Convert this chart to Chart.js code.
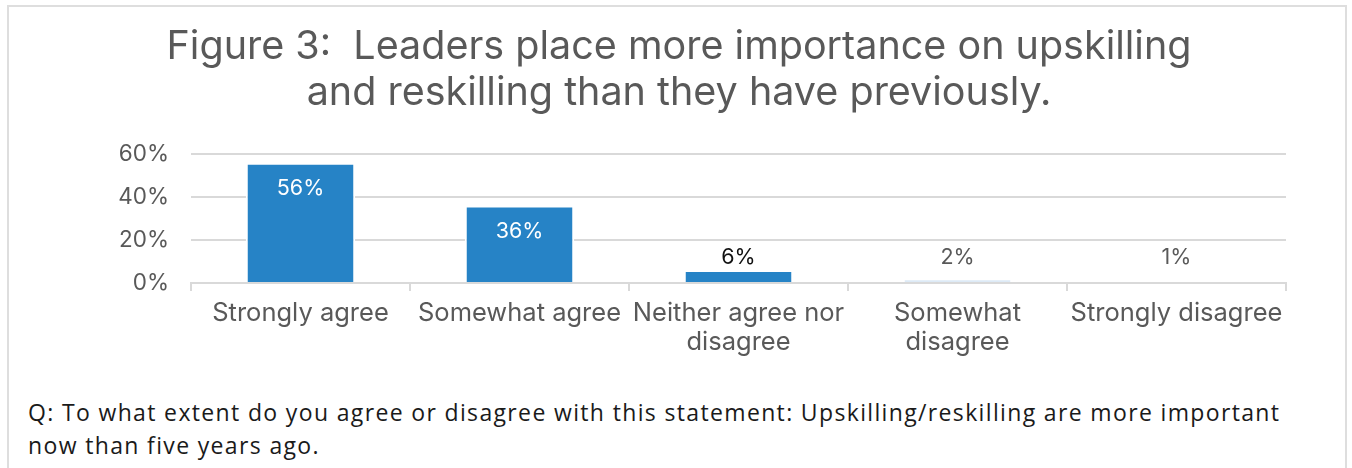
<!DOCTYPE html>
<html>
<head>
<meta charset="utf-8">
<script src="https://cdn.jsdelivr.net/npm/chart.js@4"></script>
<style>
  html, body { margin: 0; padding: 0; background: #fff; }
  #frame {
    position: absolute; left: 7px; top: 5px; width: 1336px; height: 480px;
    border: 2px solid #dedede; border-bottom: none; background: #fff;
  }
  #box { position: absolute; left: 63px; top: 0; width: 1273px; height: 372px; }
  #note {
    position: absolute; left: 19px; top: 389px; width: 1310px;
    font-family: "Open Sans", sans-serif; font-size: 23px; letter-spacing: 1.35px;
    line-height: 33px; color: #1a1a1a; white-space: nowrap;
  }
</style>
</head>
<body>
<div id="frame">
  <div id="box"><canvas id="chart"></canvas></div>
  <div id="note">Q: To what extent do you agree or disagree with this statement: Upskilling/reskilling are more important<br>now than five years ago.</div>
</div>
<script>
const categories = [
  "Strongly agree",
  "Somewhat agree",
  ["Neither agree nor", "disagree"],
  ["Somewhat", "disagree"],
  "Strongly disagree"
];
const shares = [56, 36, 6, 2, 1];
const yTicks = [0, 20, 40, 60];

const barColors = ["#2683c6", "#2683c6", "#2683c6", "#ddeaf6", "#ffffff"];
const labelColors = ["#ffffff", "#ffffff", "#111111", "#595959", "#595959"];
const gray = "#595959";
const lineGray = "#d9d9d9";
const font = "Inter";

// value labels: inside the top of tall bars, above the short ones
const valueLabels = {
  id: "valueLabels",
  afterDatasetsDraw(chart) {
    const ctx = chart.ctx;
    const meta = chart.getDatasetMeta(0);
    const y = chart.scales.y;
    ctx.save();
    ctx.font = "21.5px " + font;
    ctx.textAlign = "center";
    ctx.textBaseline = "middle";
    meta.data.forEach((bar, i) => {
      const v = shares[i];
      const py = v >= 20 ? bar.y + 26 : y.getPixelForValue(Math.max(v, 6)) - 13;
      ctx.fillStyle = labelColors[i];
      ctx.fillText(v + "%", bar.x, py);
    });
    ctx.restore();
  }
};

new Chart(document.getElementById("chart"), {
  type: "bar",
  data: {
    labels: categories,
    datasets: [{
      data: shares,
      backgroundColor: barColors,
      borderColor: "#ffffff",
      borderWidth: 2,
      borderSkipped: "bottom",
      categoryPercentage: 1,
      barPercentage: 0.5
    }]
  },
  options: {
    responsive: true,
    maintainAspectRatio: false,
    animation: false,
    layout: { padding: { left: 0, right: 59, top: 0, bottom: 0 } },
    plugins: {
      legend: { display: false },
      tooltip: { enabled: false },
      title: {
        display: true,
        text: ["Figure 3:  Leaders place more importance on upskilling", "and reskilling than they have previously."],
        color: gray,
        font: { family: font, size: 39.5, weight: "normal", lineHeight: 1.165 },
        padding: { top: 17, bottom: 38 }
      }
    },
    scales: {
      x: {
        offset: true,
        afterFit(scale) { scale.height = 96; },
        grid: { display: true, drawOnChartArea: false, drawTicks: true, tickLength: 8, color: lineGray, lineWidth: 2, offset: true },
        border: { display: true, color: lineGray, width: 2 },
        ticks: { color: gray, font: { family: font, size: 25.5, lineHeight: 1.14 }, padding: 8, maxRotation: 0, autoSkip: false }
      },
      y: {
        min: 0,
        max: 60,
        afterBuildTicks(scale) { scale.ticks = yTicks.map(v => ({ value: v })); },
        afterFit(scale) { scale.width = 119; },
        grid: { color: lineGray, lineWidth: 2, drawTicks: false },
        border: { display: false },
        ticks: { color: gray, font: { family: font, size: 22.5 }, padding: 22, callback: v => v + "%" }
      }
    }
  },
  plugins: [valueLabels]
});
</script>
</body>
</html>
